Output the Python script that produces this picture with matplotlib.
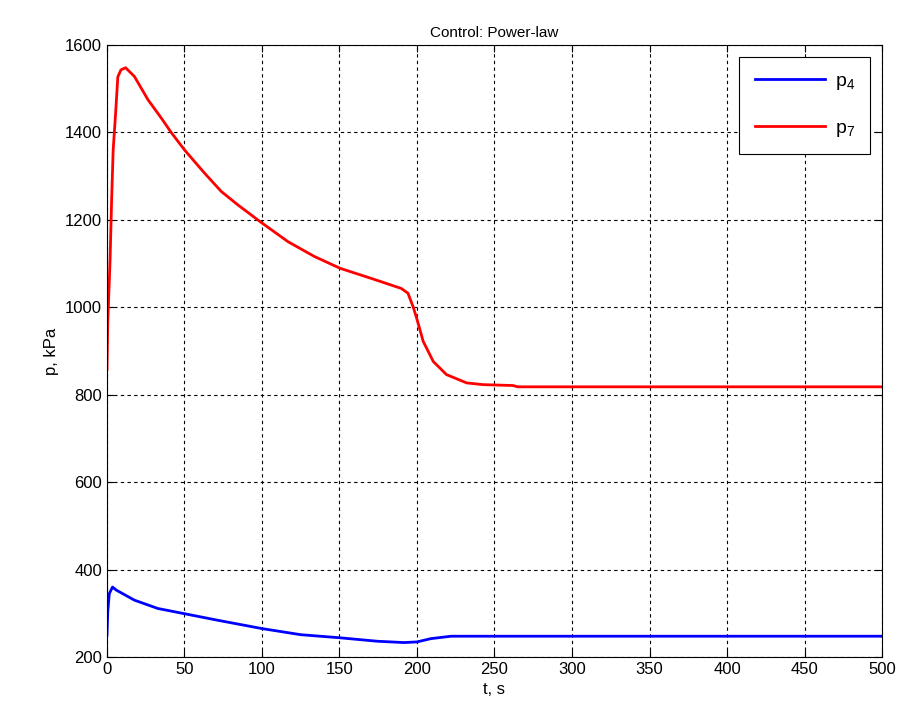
import numpy as np
import matplotlib.pyplot as plt

plt.rcParams['font.family'] = ['Liberation Sans', 'DejaVu Sans']
plt.rcParams['mathtext.fontset'] = 'custom'
plt.rcParams['mathtext.rm'] = 'Liberation Sans'
plt.rcParams['mathtext.it'] = 'Liberation Sans'

# pressure at node 7
t7 = [0, 0.5, 2, 3, 4, 5.5, 7, 9, 12, 17.7, 26.4, 35, 41.4, 50, 62.9, 73.7, 84.5, 99.5,
      116.8, 133.9, 150.5, 170.5, 189.9, 194.2, 197.5, 199.8, 204, 210.5, 219, 232,
      242.6, 262, 265, 300, 400, 500]
p7 = [857, 964, 1108, 1246, 1360, 1440, 1527, 1543, 1548, 1528, 1475, 1433, 1400, 1360,
      1307, 1265, 1234, 1194, 1150, 1116, 1089, 1066, 1043, 1032, 1001, 975, 922, 876,
      846, 827, 823, 821, 818, 818, 818, 818]

# pressure at node 4
t4 = [0, 0.5, 1.5, 3.6, 6, 17.7, 32.8, 50, 71.5, 100, 125, 150, 174.5, 191.7, 200, 209,
      222, 300, 400, 500]
p4 = [250, 303, 345, 360, 353, 330, 311, 299, 284, 265, 251, 244, 236, 233, 234.5, 242,
      247.5, 247.5, 247.5, 247.5]

fig = plt.figure(figsize=(9.05, 7.23), dpi=100)
ax = fig.add_axes([0.1182, 0.0913, 0.8564, 0.8465])

ax.plot(t4, p4, color='#0000ff', lw=2, label='p$_4$')
ax.plot(t7, p7, color='#ff0000', lw=2, label='p$_7$')

ax.set_xlim(0, 500)
ax.set_ylim(200, 1600)
ax.set_xticks(np.arange(0, 501, 50))
ax.set_yticks(np.arange(200, 1601, 200))
ax.grid(True, color='black', linestyle=(0, (3, 3)), linewidth=0.8)
ax.tick_params(direction='in', top=True, right=True, labelsize=12, length=5)
for s in ax.spines.values():
    s.set_linewidth(0.8)

ax.set_xlabel('t, s', fontsize=12)
ax.set_ylabel('p, kPa', fontsize=12)
ax.set_title('Control: Power-law', fontsize=11)

leg = ax.legend(loc='upper right', fontsize=14, fancybox=False, framealpha=1,
                edgecolor='black', borderaxespad=0.6, handlelength=3.6,
                handletextpad=0.5, labelspacing=1.4, borderpad=0.8)
leg.get_frame().set_linewidth(0.8)

fig.savefig('out.png', dpi=100)
